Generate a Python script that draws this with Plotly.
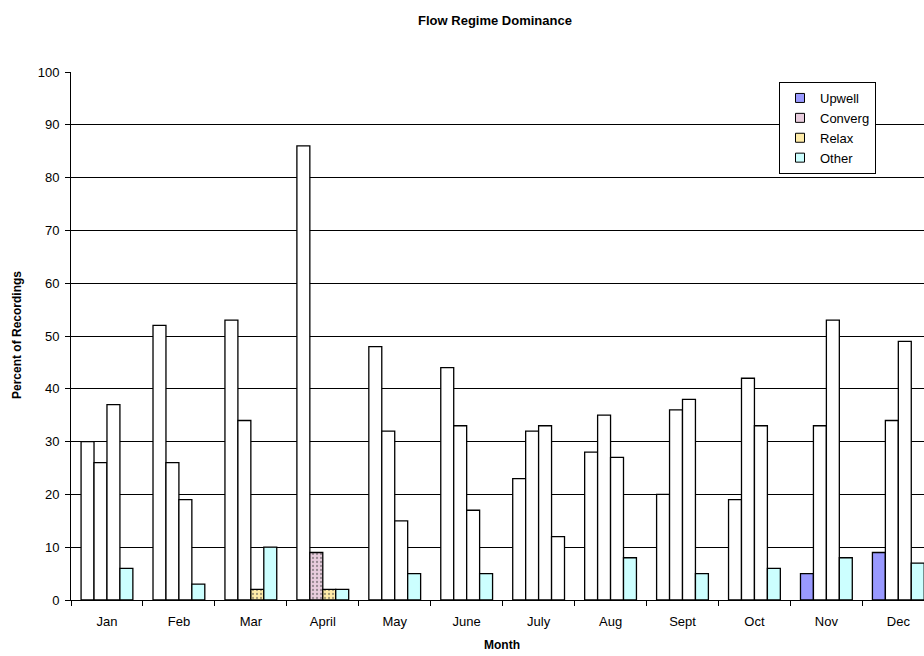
import plotly.graph_objects as go

months = ["Jan", "Feb", "Mar", "April", "May", "June", "July", "Aug", "Sept", "Oct", "Nov", "Dec"]
upwell = [30, 52, 53, 86, 48, 44, 23, 28, 20, 19, 5, 9]
converg = [26, 26, 34, 9, 32, 33, 32, 35, 36, 42, 33, 34]
relax = [37, 19, 2, 2, 15, 17, 33, 27, 38, 33, 53, 49]
other = [6, 3, 10, 2, 5, 5, 12, 8, 5, 6, 8, 7]

series = [
    ("Upwell", upwell, "#9999FF", ""),
    ("Converg", converg, "#E8CCDD", "."),
    ("Relax", relax, "#FFECA8", "."),
    ("Other", other, "#CCFFFF", ""),
]
pattern_fg = {"Converg": "#C8A0B8", "Relax": "#E8D088"}

fig = go.Figure()
for name, vals, col, pat in series:
    fills = [col if v <= 10 else "white" for v in vals]
    shapes = [pat if v <= 10 else "" for v in vals]
    marker = dict(color=fills, line=dict(color="black", width=1.3))
    if pat:
        marker["pattern"] = dict(shape=shapes, fgcolor=pattern_fg[name], size=4, solidity=0.25)
    fig.add_trace(go.Bar(x=months, y=vals, name=name, marker=marker, showlegend=False))

for name, vals, col, pat in series:
    fig.add_trace(go.Scatter(
        x=[None], y=[None], mode="markers", name=name,
        marker=dict(symbol="square", size=9, color=col, line=dict(color="black", width=1)),
    ))

fig.update_layout(
    width=924, height=656,
    margin=dict(l=71, r=0, t=72, b=56),
    paper_bgcolor="white", plot_bgcolor="white",
    barmode="group", bargap=0.28, bargroupgap=0,
    font=dict(family="Liberation Sans, Arial, sans-serif", size=12, color="black"),
    title=dict(text="<b>Flow Regime Dominance</b>", x=495 / 924, xanchor="center",
               y=1 - 20 / 656, yanchor="middle", font=dict(size=13)),
    legend=dict(x=(876 - 71) / 853, xanchor="right", y=(600 - 82) / 528, yanchor="top",
                bordercolor="black", borderwidth=1, bgcolor="white",
                font=dict(size=13), itemwidth=30, tracegroupgap=0),
    showlegend=True,
)
fig.update_xaxes(
    type="category", range=[-0.5, 11.357], showgrid=False,
    showline=True, linecolor="black", linewidth=1,
    ticks="outside", tickson="boundaries", ticklen=5, tickcolor="black",
    ticklabelstandoff=9,
    tickfont=dict(size=13), fixedrange=True,
)
fig.update_yaxes(
    range=[0, 100], dtick=10, showgrid=True, gridcolor="black", gridwidth=1,
    showline=True, linecolor="black", linewidth=1,
    ticks="outside", ticklen=5, tickcolor="black", ticklabelstandoff=3,
    tickfont=dict(size=13), zeroline=False, fixedrange=True,
)
fig.add_annotation(text="<b>Month</b>", xref="paper", yref="paper",
                   x=(502 - 71) / 853, y=-(645 - 600) / 528, showarrow=False,
                   xanchor="center", yanchor="middle", font=dict(size=12))
fig.add_annotation(text="<b>Percent of Recordings</b>", xref="paper", yref="paper",
                   x=-(71 - 17) / 853, y=(600 - 335) / 528, showarrow=False, textangle=-90,
                   xanchor="center", yanchor="middle", font=dict(size=12))

fig.write_html("out.html", config={"displayModeBar": False},
               post_script="document.body.style.margin='0';document.body.style.overflow='hidden';")
